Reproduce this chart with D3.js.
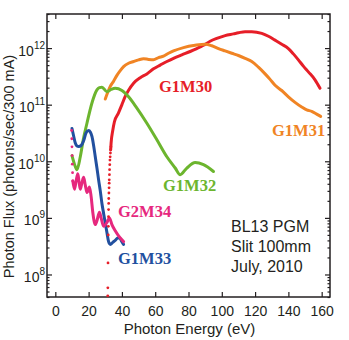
<!DOCTYPE html>
<html>

<head>
    <title>BL13 PGM photon flux</title>
    <script src="https://d3js.org/d3.v7.min.js"></script>
    <style>
        body {
            margin: 0;
            background: white;
        }

        text {
            font-family: "Liberation Sans", Arial, sans-serif;
        }

        .tag {
            font-family: "Liberation Serif", "Times New Roman", serif;
            font-weight: bold;
            font-size: 16.5px;
        }

        .curve {
            fill: none;
            stroke-width: 3;
            stroke-linejoin: round;
            stroke-linecap: round;
        }
    </style>
</head>

<body>
    <div id="flux_chart"></div>

    <script>
        // photon energy (eV) and flux (photons/sec/300 mA) for each grating/mirror set
        var g1m30E = [33.25, 33.5, 34.5, 35.5, 37.9, 40, 42, 44, 47, 51, 55, 59, 63, 67, 71, 76, 81, 85, 89, 93, 97,
            102, 107, 110, 114, 118, 124, 128, 132, 136, 140, 143, 146, 149, 152, 156, 159];
        var g1m30Flux = [1.6e10, 2.1e10, 3.5e10, 5.0e10, 7.1e10, 1.0e11, 1.4e11, 1.8e11, 2.4e11, 3.0e11, 3.5e11, 4.3e11,
            5.0e11, 5.8e11, 6.6e11, 7.6e11, 8.7e11, 9.8e11, 1.12e12, 1.32e12, 1.48e12, 1.66e12, 1.78e12, 1.86e12,
            1.95e12, 1.95e12, 1.82e12, 1.62e12, 1.38e12, 1.17e12, 9.8e11, 7.9e11, 6.2e11, 4.8e11, 3.8e11, 2.75e11, 1.95e11];
        // steep onset of G1M30, sampled sparsely
        var g1m30OnsetE = [31.5, 31.55, 31.65, 31.8, 31.85, 31.95, 32.0, 32.05, 32.1, 32.2, 32.3, 32.35, 32.4, 32.5,
            32.6, 32.7, 32.8, 32.95, 33.1, 33.25, 33.4];
        var g1m30OnsetFlux = [4.2e7, 5.8e7, 1.6e8, 5.0e8, 7.1e8, 1.05e9, 1.4e9, 1.8e9, 2.2e9, 2.75e9, 3.4e9, 4.1e9,
            4.7e9, 5.8e9, 7.1e9, 8.7e9, 1.05e10, 1.2e10, 1.4e10, 1.6e10, 1.8e10];

        var g1m31E = [30, 31.5, 33, 35, 37, 39, 41, 44, 47, 50, 53, 56, 59, 62, 65, 68, 71, 77, 84, 90, 94, 98, 102,
            106, 110, 114, 118, 122, 126, 129, 132, 136, 140, 144, 148, 151, 154, 157, 159.4];
        var g1m31Flux = [1.26e11, 1.66e11, 2.1e11, 2.6e11, 3.3e11, 4.0e11, 4.7e11, 5.4e11, 5.8e11, 6.2e11, 6.5e11,
            6.3e11, 6.2e11, 6.8e11, 7.2e11, 8.1e11, 8.9e11, 1.02e12, 1.12e12, 1.17e12, 1.10e12, 9.8e11, 8.9e11,
            8.1e11, 7.4e11, 6.6e11, 5.8e11, 4.6e11, 3.5e11, 2.8e11, 2.2e11, 1.78e11, 1.38e11, 1.10e11, 9.1e10,
            8.1e10, 7.6e10, 6.8e10, 6.2e10];

        var g1m32E = [10, 11.5, 13, 15, 17, 19, 22, 25, 26.5, 28, 31, 33.5, 36, 40, 44, 49, 55, 61, 67, 72, 75, 79, 84, 89, 95];
        var g1m32Flux = [1.26e10, 8.9e9, 7.1e9, 1.2e10, 2.6e10, 4.7e10, 1.07e11, 1.82e11, 2.0e11, 2.04e11, 1.7e11,
            1.86e11, 1.95e11, 1.78e11, 1.38e11, 8.7e10, 4.7e10, 2.4e10, 1.2e10, 7.6e9, 5.8e9, 7.6e9, 9.5e9, 8.7e9, 6.6e9];

        var g1m33E = [10, 11, 12, 13, 14, 15.5, 17, 18.5, 20, 21, 22, 23, 24, 25, 26, 27, 28, 29, 30, 31, 32, 33,
            34.5, 36, 37.5, 38.6, 40, 41];
        var g1m33Flux = [3.8e10, 2.8e10, 2.1e10, 1.86e10, 1.82e10, 1.9e10, 2.3e10, 3.2e10, 3.5e10, 3.3e10, 2.75e10,
            1.9e10, 1.2e10, 7.6e9, 4.7e9, 3.0e9, 1.8e9, 1.2e9, 8.1e8, 5.5e8, 3.8e8, 3.4e8, 3.7e8, 4.0e8, 4.4e8,
            4.4e8, 3.8e8, 3.4e8];

        var g2m34E = [10.5, 11.5, 12.5, 13.5, 14.3, 15, 16, 17, 18, 19, 20.5, 21.5, 22.5, 24, 25, 26.5, 27.5, 29, 31,
            32.5, 34, 36, 38, 41];
        var g2m34Flux = [4.5e9, 3.2e9, 4.5e9, 6.0e9, 4.2e9, 3.2e9, 4.2e9, 5.2e9, 3.8e9, 2.8e9, 3.5e9, 2.4e9, 1.26e9,
            7.6e8, 8.9e8, 1.26e9, 1.0e9, 7.1e8, 8.3e8, 1.0e9, 7.6e8, 5.9e8, 4.8e8, 3.8e8];
        // steep start of G2M34, sampled sparsely
        var g2m34OnsetE = [9.8, 9.9, 10.0, 10.1, 10.2, 10.35, 10.5];
        var g2m34OnsetFlux = [3.5e10, 2.5e10, 1.8e10, 1.26e10, 8.9e9, 6.3e9, 4.5e9];

        var xTicks = [0, 20, 40, 60, 80, 100, 120, 140, 160];
        var yDecades = [8, 9, 10, 11, 12];
        var infoLines = ["BL13 PGM", "Slit 100mm", "July, 2010"];

        var colors = {
            g1m30: "#e61e28",
            g1m31: "#f08424",
            g1m32: "#6cb52e",
            g1m33: "#22509f",
            g2m34: "#e6287e"
        };

        function pairs(xs, ys) {
            return xs.map((x, i) => ({ e: x, f: ys[i] }));
        }

        var width = 349, height = 340;
        var plot = { left: 47, right: 330, top: 14, bottom: 297 };

        var svg = d3.select("#flux_chart")
            .append("svg")
            .attr("width", width)
            .attr("height", height);

        var x = d3.scaleLinear().domain([-5, 165]).range([plot.left, plot.right]);
        var y = d3.scaleLog().domain([4e7, 4e12]).range([plot.bottom, plot.top]);

        // tick marks, all pointing inwards
        var minorTicks = [];
        yDecades.concat([7]).forEach(function (d) {
            for (var m = 2; m <= 9; m++) {
                var v = m * Math.pow(10, d);
                if (v >= 4e7 && v <= 4e12) minorTicks.push(v);
            }
        });
        var majorTicks = yDecades.map(d => Math.pow(10, d));

        svg.append("g")
            .attr("class", "axis")
            .attr("transform", "translate(0," + plot.bottom + ")")
            .call(d3.axisBottom(x).tickValues(xTicks).tickSize(-5).tickPadding(9))
            .call(g => g.select(".domain").remove())
            .call(g => g.selectAll("text").style("font-size", "14px")
                .attr("font-family", null).attr("fill", "#231f20"));

        svg.append("g")
            .attr("transform", "translate(0," + plot.top + ")")
            .call(d3.axisTop(x).tickValues(xTicks).tickSize(-5).tickFormat(""))
            .call(g => g.select(".domain").remove());

        [[d3.axisLeft, plot.left], [d3.axisRight, plot.right]].forEach(function (a) {
            svg.append("g")
                .attr("transform", "translate(" + a[1] + ",0)")
                .call(a[0](y).tickValues(majorTicks).tickSize(-5).tickFormat(""))
                .call(g => g.select(".domain").remove());
            svg.append("g")
                .attr("transform", "translate(" + a[1] + ",0)")
                .call(a[0](y).tickValues(minorTicks).tickSize(-2.5).tickFormat(""))
                .call(g => g.select(".domain").remove());
        });
        svg.selectAll(".tick line").attr("stroke", "#231f20").attr("stroke-width", 1.2);

        // decade labels as 10^n
        var yLabels = svg.append("g").selectAll("text")
            .data(yDecades)
            .enter()
            .append("text")
            .attr("x", plot.left - 2)
            .attr("y", d => y(Math.pow(10, d)) + 7.5)
            .attr("text-anchor", "end")
            .attr("fill", "#231f20")
            .style("font-size", "14px");
        yLabels.append("tspan").text("10");
        yLabels.append("tspan")
            .attr("dy", -7)
            .style("font-size", "10px")
            .text(d => d);

        // plot frame
        svg.append("rect")
            .attr("x", plot.left)
            .attr("y", plot.top)
            .attr("width", plot.right - plot.left)
            .attr("height", plot.bottom - plot.top)
            .attr("fill", "none")
            .attr("stroke", "#231f20")
            .attr("stroke-width", 1.5);

        var line = d3.line()
            .x(d => x(d.e))
            .y(d => y(d.f))
            .curve(d3.curveMonotoneX);

        var series = [
            { key: "g1m30", data: pairs(g1m30E, g1m30Flux) },
            { key: "g1m31", data: pairs(g1m31E, g1m31Flux) },
            { key: "g1m32", data: pairs(g1m32E, g1m32Flux) },
            { key: "g1m33", data: pairs(g1m33E, g1m33Flux) },
            { key: "g2m34", data: pairs(g2m34E, g2m34Flux) }
        ];

        var plotArea = svg.append("g");

        series.forEach(function (s) {
            plotArea.append("path")
                .datum(s.data)
                .attr("class", "curve")
                .attr("stroke", colors[s.key])
                .attr("d", line);
        });

        // sparse onset points drawn as dots
        [["g1m30", pairs(g1m30OnsetE, g1m30OnsetFlux)], ["g2m34", pairs(g2m34OnsetE, g2m34OnsetFlux)]]
            .forEach(function (o) {
                plotArea.selectAll(null)
                    .data(o[1])
                    .enter()
                    .append("circle")
                    .attr("cx", d => x(d.e))
                    .attr("cy", d => y(d.f))
                    .attr("r", 1.4)
                    .attr("fill", colors[o[0]]);
            });

        // series tags
        var tags = [
            { key: "g1m30", text: "G1M30", x: 159, y: 91.5 },
            { key: "g1m31", text: "G1M31", x: 272, y: 136 },
            { key: "g1m32", text: "G1M32", x: 163, y: 191 },
            { key: "g2m34", text: "G2M34", x: 118, y: 216.5 },
            { key: "g1m33", text: "G1M33", x: 118, y: 263.5 }
        ];
        svg.append("g").selectAll("text")
            .data(tags)
            .enter()
            .append("text")
            .attr("class", "tag")
            .attr("x", d => d.x)
            .attr("y", d => d.y)
            .attr("fill", d => colors[d.key])
            .text(d => d.text);

        svg.append("g").selectAll("text")
            .data(infoLines)
            .enter()
            .append("text")
            .attr("x", 231)
            .attr("y", (d, i) => 231.5 + i * 20)
            .attr("fill", "#231f20")
            .style("font-size", "16px")
            .text(d => d);

        // axis titles
        svg.append("text")
            .attr("x", (plot.left + plot.right) / 2 + 1)
            .attr("y", 334)
            .attr("text-anchor", "middle")
            .attr("fill", "#231f20")
            .style("font-size", "15px")
            .text("Photon Energy (eV)");

        svg.append("text")
            .attr("transform", "translate(14,166.5) rotate(-90)")
            .attr("text-anchor", "middle")
            .attr("fill", "#231f20")
            .style("font-size", "14.5px")
            .text("Photon Flux (photons/sec/300 mA)");
    </script>
</body>

</html>
